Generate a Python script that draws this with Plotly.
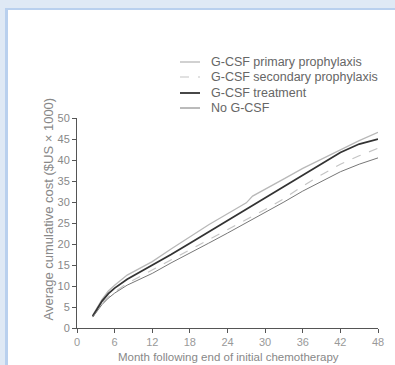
import plotly.graph_objects as go

months = [2.5, 3, 4, 5, 6, 8, 10, 12, 15, 18, 21, 24, 27, 28, 30, 33, 36, 39, 42, 45, 48]
primary = [3.0, 4.3, 6.8, 8.8, 10.2, 12.6, 14.3, 15.8, 18.8, 21.8, 24.6, 27.2, 29.8, 31.4, 33.0, 35.5, 38.0, 40.2, 42.5, 44.6, 46.6]
secondary = [2.7, 3.8, 5.8, 7.4, 8.6, 10.6, 12.2, 13.6, 16.2, 18.6, 21.0, 23.2, 25.6, 26.5, 28.2, 30.8, 33.8, 36.5, 39.0, 41.0, 42.8]
treatment = [2.8, 4.1, 6.4, 8.2, 9.5, 11.6, 13.3, 14.8, 17.5, 20.2, 22.9, 25.6, 28.3, 29.3, 31.2, 33.8, 36.5, 39.2, 41.8, 43.8, 45.0]
no_gcsf = [2.6, 3.7, 5.6, 7.1, 8.3, 10.2, 11.6, 13.0, 15.5, 17.8, 20.2, 22.6, 25.0, 25.8, 27.6, 30.0, 32.6, 35.0, 37.2, 39.0, 40.5]

series_names = ["G-CSF primary prophylaxis", "G-CSF secondary prophylaxis", "G-CSF treatment", "No G-CSF"]
x_ticks = [0, 6, 12, 18, 24, 30, 36, 42, 48]
y_ticks = [0, 5, 10, 15, 20, 25, 30, 35, 40, 45, 50]

L, R, T, B = 77, 17, 118, 37
W, H = 395, 365
pw, ph = W - L - R, H - T - B

def px(p):
    return (p - L) / pw

def py(q):
    return (H - B - q) / ph

styles = [
    dict(color="#b8b8b8", width=1.3),
    dict(color="#c4c4c4", width=1.2, dash="dash"),
    dict(color="#333333", width=1.8),
    dict(color="#777777", width=1.0),
]
data = [primary, secondary, treatment, no_gcsf]

fig = go.Figure()
for name, vals, st in zip(series_names, data, styles):
    fig.add_trace(go.Scatter(x=months, y=vals, mode="lines", name=name,
                             line=st, showlegend=False))

font = "Liberation Sans, Arial, sans-serif"

shapes = [
    dict(type="rect", xref="paper", yref="paper", layer="below",
         x0=px(5), x1=px(400), y0=py(8), y1=py(370),
         fillcolor="#b9d0ee", line=dict(width=0)),
    dict(type="rect", xref="paper", yref="paper", layer="below",
         x0=px(8), x1=px(400), y0=py(10), y1=py(370),
         fillcolor="#ffffff", line=dict(width=0)),
]
annotations = [
    dict(text="Average cumulative cost ($US × 1000)", xref="paper", yref="paper",
         x=px(38), y=py(209), textangle=-90, showarrow=False,
         font=dict(size=13, color="#888888")),
    dict(text="Month following end of initial chemotherapy", xref="paper", yref="paper",
         x=px(228), y=py(364), yanchor="bottom", showarrow=False, borderpad=0,
         font=dict(size=11.5, color="#888888")),
]
legend_rows = [62, 77, 93, 108]
for name, st, row in zip(series_names, styles, legend_rows):
    ln = dict(color=st["color"], width=st["width"])
    if "dash" in st:
        ln["dash"] = "dash"
    shapes.append(dict(type="line", xref="paper", yref="paper",
                       x0=px(180), x1=px(200), y0=py(row), y1=py(row), line=ln))
    annotations.append(dict(text=name, xref="paper", yref="paper", x=px(209), y=py(row),
                            xanchor="left", yanchor="middle", showarrow=False,
                            font=dict(size=12.5, color="#666666")))

fig.update_layout(
    width=W, height=H,
    margin=dict(l=L, r=R, t=T, b=B),
    paper_bgcolor="#dfe9f5",
    plot_bgcolor="rgba(0,0,0,0)",
    font=dict(family=font, size=10, color="#777777"),
    showlegend=False,
    xaxis=dict(range=[0, 48], tickvals=x_ticks, ticks="outside", ticklen=4,
               tickcolor="#555555", showline=True, linecolor="#555555", linewidth=1,
               showgrid=False, zeroline=False, tickfont=dict(size=11, color="#999999")),
    yaxis=dict(range=[0, 50], tickvals=y_ticks, ticks="outside", ticklen=4,
               tickcolor="#555555", showline=True, linecolor="#555555", linewidth=1,
               showgrid=False, zeroline=False, tickfont=dict(size=11, color="#888888")),
    shapes=shapes,
    annotations=annotations,
)

fig.write_html("out.html")
